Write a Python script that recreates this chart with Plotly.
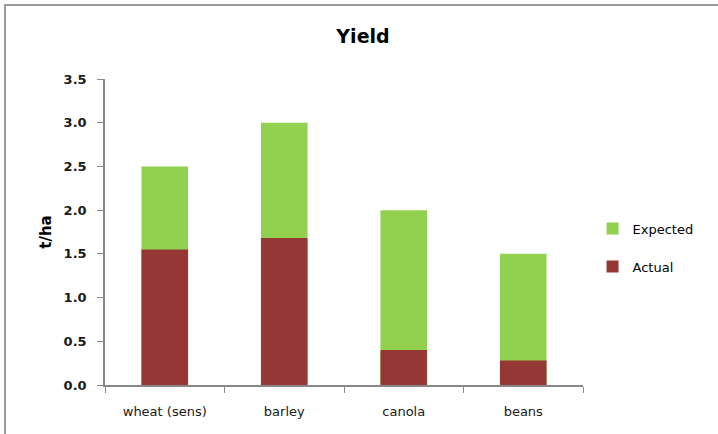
import plotly.graph_objects as go

categories = ["wheat (sens)", "barley", "canola", "beans"]
expected = [2.5, 3.0, 2.0, 1.5]
actual = [1.55, 1.68, 0.4, 0.28]
y_ticks = [0.0, 0.5, 1.0, 1.5, 2.0, 2.5, 3.0, 3.5]

FONT = "DejaVu Sans"

fig = go.Figure()
fig.add_trace(go.Bar(x=categories, y=expected, name="Expected", legendgroup="e",
                     marker=dict(color="#92D050", line=dict(width=0))))
fig.add_trace(go.Bar(x=categories, y=actual, name="Actual", legendgroup="a",
                     marker=dict(color="#953735", line=dict(width=0))))

fig.update_layout(
    width=718, height=434,
    barmode="overlay",
    bargap=0.61,
    paper_bgcolor="white", plot_bgcolor="white",
    margin=dict(l=105, r=135, t=79, b=49),
    font=dict(family=FONT, size=13, color="#1a1a1a"),
    title=dict(text="<b>Yield</b>", x=(363 / 718), xanchor="center",
               y=1 - 36 / 434, yanchor="middle",
               font=dict(family=FONT, size=19, color="#000000")),
    legend=dict(x=1.02, xanchor="left", y=0.56, yanchor="top",
                font=dict(family=FONT, size=13, color="#000000"),
                traceorder="grouped", itemwidth=30, tracegroupgap=18,
                bgcolor="rgba(0,0,0,0)"),
    xaxis=dict(type="category", showline=True, linecolor="#888888", linewidth=1.5,
               ticks="outside", tickson="boundaries", ticklen=6, tickcolor="#888888",
               ticklabelstandoff=14,
               tickfont=dict(family=FONT, size=13, color="#1a1a1a"),
               showgrid=False, fixedrange=True),
    yaxis=dict(range=[0, 3.5], tickvals=y_ticks,
               ticktext=[f"<b>{v:.1f}</b>" for v in y_ticks],
               showline=True, linecolor="#888888", linewidth=1.5,
               ticks="outside", ticklen=6, tickcolor="#888888",
               ticklabelstandoff=8,
               tickfont=dict(family=FONT, size=13, color="#1a1a1a"),
               showgrid=False, zeroline=False,
               title=dict(text="<b>t/ha</b>", standoff=8,
                          font=dict(family=FONT, size=15, color="#000000"))),
    shapes=[dict(type="rect", xref="paper", yref="paper",
                 x0=(5 - 105) / 478, x1=(730 - 105) / 478,
                 y0=(385 - 450) / 306, y1=(385 - 5) / 306,
                 line=dict(color="#9a9a9a", width=2), fillcolor="rgba(0,0,0,0)",
                 layer="below")],
)

fig.write_html("out.html")
